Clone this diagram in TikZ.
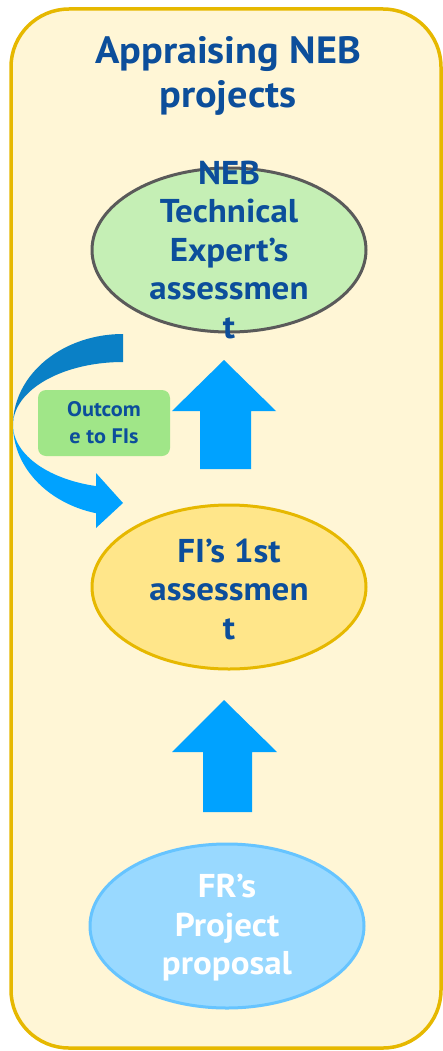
\documentclass[tikz,border=0pt]{standalone}
\usepackage{fontspec}
\setmainfont{PT Sans}[FakeStretch=1.06]
\usetikzlibrary{shapes.geometric}
\definecolor{panelfill}{HTML}{FFF6D6}
\definecolor{panelline}{HTML}{E6B800}
\definecolor{titleblue}{HTML}{0C4E9B}
\definecolor{greenfill}{HTML}{C5EFB5}
\definecolor{greyline}{HTML}{5A5A5A}
\definecolor{yellowfill}{HTML}{FFE68A}
\definecolor{bluefill}{HTML}{99D9FF}
\definecolor{blueline}{HTML}{66C4FF}
\definecolor{arrowblue}{HTML}{00A2FF}
\definecolor{darkarrow}{HTML}{0A80C6}
\definecolor{boxgreen}{HTML}{A0E688}
\tikzset{
  ell/.style={ellipse, minimum width=274pt, minimum height=164pt, inner sep=0pt, line width=3pt},
  elltext/.style={align=center, inner sep=0pt, font=\fontsize{33}{38.5}\selectfont\bfseries},
  blockarrow/.style={fill=arrowblue, draw=none},
}
\begin{document}
\begin{tikzpicture}[x=1pt,y=-1pt]
\useasboundingbox (0,0) rectangle (443,1051);
\draw[panelline, fill=panelfill, line width=3.5pt, rounded corners=58pt] (11,9) rectangle (441,1048);
\node[text=titleblue, align=center, font=\fontsize{38}{44}\selectfont\bfseries] (title) at (228,76) {Appraising NEB\\projects};
\node[ell, draw=greyline, fill=greenfill] (neb) at (229,250) {};
\node[elltext, text=titleblue] (nebtext) at (229,250) {NEB\\Technical\\Expert’s\\assessmen\\t};
\node[ell, draw=panelline, fill=yellowfill] (fi) at (229,587) {};
\node[elltext, text=titleblue] (fitext) at (229,589) {FI’s 1st\\assessmen\\t};
\node[ell, draw=blueline, fill=bluefill] (fr) at (227,926) {};
\node[elltext, text=white] (frtext) at (227,928) {FR’s\\Project\\proposal};
% up arrows
\fill[blockarrow] (200,469) -- (200,411) -- (172,411) -- (224,360) -- (276,411) -- (251,411) -- (251,469) -- cycle;
\fill[blockarrow] (203,812) -- (203,752) -- (172,752) -- (224,700) -- (277,752) -- (252,752) -- (252,812) -- cycle;
% curved arrow
\fill[darkarrow] plot[domain=270:180, samples=60] ({123+110*cos(\x)},{425+91*sin(\x)})
  -- plot[domain=180:270, samples=60] ({123+110*cos(\x)},{425+63*sin(\x)}) -- cycle;
\fill[arrowblue] plot[domain=180:104, samples=60] ({123+110*cos(\x)},{425+91*sin(\x)})
  -- plot[domain=104:180, samples=60] ({123+110*cos(\x)},{425+63*sin(\x)}) -- cycle;
\fill[arrowblue] (96,473) -- (123,503) -- (96,528) -- cycle;
\node[fill=boxgreen, rounded corners=8pt, minimum width=132pt, minimum height=66pt, inner sep=0pt, align=center,
  text=titleblue, font=\fontsize{21}{27}\selectfont\bfseries] (outcome) at (104,423) {Outcom\\e to FIs};
\end{tikzpicture}
\end{document}
